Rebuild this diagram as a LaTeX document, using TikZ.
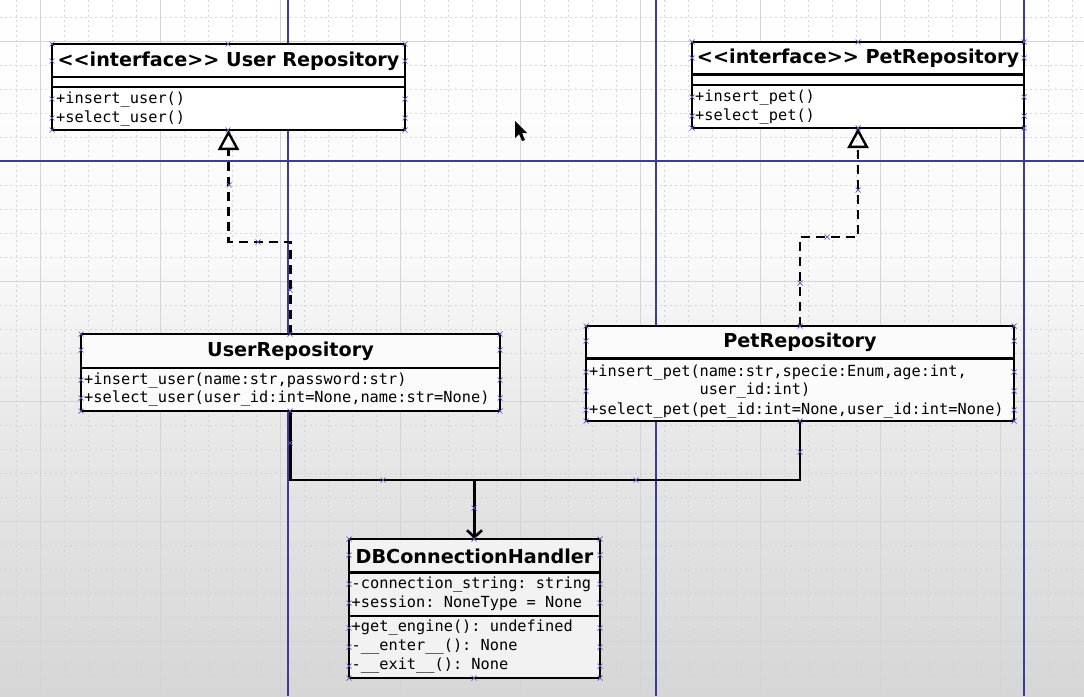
\documentclass[tikz,border=0pt]{standalone}
\usepackage{fontspec}
\setmainfont{DejaVu Sans}
\newfontfamily\monof{DejaVu Sans Mono}
\usetikzlibrary{arrows.meta}
\definecolor{bgbot}{HTML}{D6D6D6}
\definecolor{bgmid}{HTML}{E8E8E8}
\definecolor{bgtop}{HTML}{FAFAFA}
\definecolor{guide}{HTML}{3C3C96}
\definecolor{markc}{HTML}{5A5AC8}
\definecolor{gridc}{HTML}{D3D6D9}
\definecolor{gridm}{HTML}{D2D5D8}
\pgfdeclareverticalshading{bgshade}{100bp}{color(0bp)=(bgbot); color(25bp)=(bgbot); color(44bp)=(bgmid); color(57bp)=(bgtop); color(75bp)=(white); color(100bp)=(white)}
\tikzset{
  xm/.pic={\draw[markc, line width=0.7pt] (-2.5,-2.5) -- (2.5,2.5) (-2.5,2.5) -- (2.5,-2.5);},
}
\begin{document}
\begin{tikzpicture}[x=1pt,y=-1pt,
  umlbox/.style={draw=black, line width=2.7pt, inner sep=0pt, outer sep=0pt, anchor=north west},
  sepline/.style={draw=black, line width=2.2pt},
  ttl/.style={font=\fontsize{19.2}{23}\selectfont\bfseries, inner sep=0pt},
  mem/.style={font=\monof\fontsize{15.3}{19}\selectfont\frenchspacing, inner sep=0pt, anchor=west, text height=11pt, text depth=3pt},
  realize/.style={line width=2.6pt, dash pattern=on 9pt off 6pt, -{Triangle[open, length=20pt, width=21pt, line width=2.4pt]}},
  assoc/.style={line width=2.6pt},
  navig/.style={line width=2.6pt, -{Straight Barb[length=7pt, width=15pt, line width=2.6pt]}},
  minorgrid/.style={gridc, line width=0.8pt, dash pattern=on 2pt off 3pt},
  majorgrid/.style={gridm, line width=1pt},
  guideline/.style={guide, line width=1.5pt},
]
\useasboundingbox (0,0) rectangle (1084,696);
% background
\shade[shading=bgshade] (0,0) rectangle (1084,696);
\foreach \i in {0,...,45} \draw[minorgrid] ({16.7+24*\i},0) -- ++(0,696);
\foreach \i in {0,...,28} \draw[minorgrid] (0,{17+24*\i}) -- ++(1084,0);
\foreach \i in {0,...,8} \draw[majorgrid] ({40.7+120*\i},0) -- ++(0,696);
\foreach \i in {0,...,5} \draw[majorgrid] (0,{41+120*\i}) -- ++(1084,0);
\draw[guideline] (288,0) -- (288,696);
\draw[guideline] (656,0) -- (656,696);
\draw[guideline] (1024,0) -- (1024,696);
\draw[guideline] (0,161) -- (1084,161);

% boxes
\node[umlbox, fill=white, minimum width=353pt, minimum height=86pt] (ui) at (52,44) {};
\node[umlbox, fill=white, minimum width=332pt, minimum height=86pt] (pi) at (692,42) {};
\node[umlbox, fill=gray!3, minimum width=419pt, minimum height=77pt] (urep) at (81,334) {};
\node[umlbox, fill=gray!3, minimum width=428pt, minimum height=95pt] (prep) at (586,326) {};
\node[umlbox, fill=gray!10, minimum width=251pt, minimum height=139pt] (db) at (349,539) {};

% compartments
\draw[sepline] (ui.west |- 0,77) -- (ui.east |- 0,77);
\draw[sepline] (ui.west |- 0,87) -- (ui.east |- 0,87);
\draw[sepline] (pi.west |- 0,74.5) -- (pi.east |- 0,74.5);
\draw[sepline] (pi.west |- 0,85) -- (pi.east |- 0,85);
\draw[sepline] (urep.west |- 0,368) -- (urep.east |- 0,368);
\draw[sepline] (prep.west |- 0,358.5) -- (prep.east |- 0,358.5);
\draw[sepline] (db.west |- 0,572.5) -- (db.east |- 0,572.5);
\draw[sepline] (db.west |- 0,616) -- (db.east |- 0,616);

% titles
\node[ttl] (uit) at (ui.north |- 0,61) {<\kern0pt<interface>\kern0pt> User Repository};
\node[ttl] (pit) at (pi.north |- 0,58) {<\kern0pt<interface>\kern0pt> PetRepository};
\node[ttl] (urept) at (urep.north |- 0,351) {UserRepository};
\node[ttl] (prept) at (prep.north |- 0,342.5) {PetRepository};
\node[ttl] (dbt) at (db.north |- 0,556) {DBConnectionHandler};

% members
\node[mem] (ui1) at (56,99.5) {+insert\_user()};
\node[mem] (ui2) at (56,118.5) {+select\_user()};
\node[mem] (pi1) at (695,97.5) {+insert\_pet()};
\node[mem] (pi2) at (695,116) {+select\_pet()};
\node[mem] (ur1) at (84,380) {+insert\_user(name:str,password:str)};
\node[mem] (ur2) at (84,398.5) {+select\_user(user\_id:int=None,name:str=None)};
\node[mem] (pr1) at (589,372.3) {+insert\_pet(name:str,specie:Enum,age:int,};
\node[mem] (pr2) at (589,390.7) {\phantom{+insert\_pet(}user\_id:int)};
\node[mem] (pr3) at (589,410) {+select\_pet(pet\_id:int=None,user\_id:int=None)};
\node[mem] (db1) at (351.5,584) {-connection\_string: string};
\node[mem] (db2) at (351.5,603.3) {+session: NoneType = None};
\node[mem] (db3) at (351.5,627.7) {+get\_engine(): undefined};
\node[mem] (db4) at (351.5,646.7) {-\_\_enter\_\_(): None};
\node[mem] (db5) at (351.5,665.7) {-\_\_exit\_\_(): None};

% connectors
\draw[realize] (urep.north) -- ++(0,-92) -| (ui.south);
\draw[realize] (prep.north) -- ++(0,-89) -| (pi.south);
\coordinate (join) at (db.north |- 0,480);
\draw[assoc] (urep.south) |- (join);
\draw[assoc] (prep.south) |- (join);
\draw[navig] (join) -- (db.north);

% connection point markers
\foreach \p in {(52,44),(228,44),(405,44),(52,61),(405,61),(52,99),(405,99),(52,118),(405,118),(52,130),(228,130),(405,130),
  (692,42),(858,42),(1024,42),(692,58),(1024,58),(692,97),(1024,97),(692,116),(1024,116),(692,128),(858,128),(1024,128),
  (81,334),(290,334),(500,334),(81,350),(500,350),(81,380),(500,380),(81,398),(500,398),(81,411),(290,411),(500,411),
  (586,326),(800,326),(1014,326),(586,341),(1014,341),(586,372),(1014,372),(586,391),(1014,391),(586,410),(1014,410),(586,421),(800,421),(1014,421),
  (349,539),(474,539),(600,539),(349,555),(600,555),(349,584),(600,584),(349,603),(600,603),(349,628),(600,628),(349,647),(600,647),(349,666),(600,666),(349,678),(474,678),(600,678),
  (229,185),(258,242),(290,290),(858,190),(827,237),(800,283),(290,443),(383,480),(636,480),(800,452),(474,508)}
  \pic at \p {xm};

% mouse cursor
\fill[black] (515,121) -- (515,138) -- (519,134) -- (522,141) -- (525,140) -- (522,133) -- (527,133) -- cycle;
\end{tikzpicture}
\end{document}
